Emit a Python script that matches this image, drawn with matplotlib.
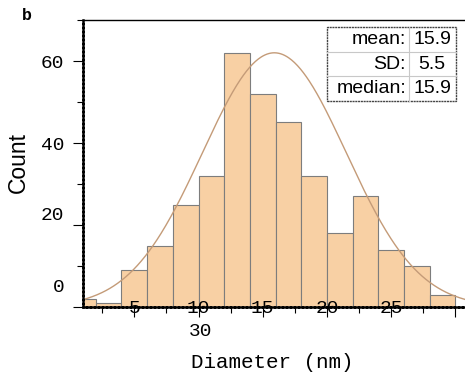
import numpy as np
import matplotlib
matplotlib.use("Agg")
import matplotlib.pyplot as plt
from matplotlib.transforms import ScaledTranslation
from matplotlib.ticker import MultipleLocator

# data
bin_edges = [0, 2, 4, 6, 8, 10, 12, 14, 16, 18, 20, 22, 24, 26, 28, 30]
counts = [2, 1, 9, 15, 25, 32, 62, 52, 45, 32, 18, 27, 14, 10, 3]
fit_amp, fit_mu, fit_sigma = 62.0, 15.9, 5.6
stat_names = ["mean:", "SD:", "median:"]
stat_values = ["15.9", "5.5", "15.9"]
xtick_vals = [5, 10, 15, 20, 25, 30]
ytick_vals = [0, 20, 40, 60]

mono = "Liberation Mono"
sans = "Liberation Sans"

fig = plt.figure(figsize=(4.65, 3.76), dpi=100)
ax = fig.add_axes([82.5 / 465, 69 / 376, 382.5 / 465, 287 / 376])
ax.set_axisbelow(False)

widths = np.diff(bin_edges)
ax.bar(bin_edges[:-1], counts, width=widths, align="edge",
       color="#F8D0A4", edgecolor="#7d7d7d", linewidth=0.8, zorder=1)

xs = np.linspace(0.5, 31, 400)
ys = fit_amp * np.exp(-(xs - fit_mu) ** 2 / (2 * fit_sigma ** 2))
ax.plot(xs, ys, color="#C49B78", lw=1.0, zorder=2)

ax.set_xlim(0.97, 30.74)
ax.set_ylim(0, 70)

# spines
ax.spines["right"].set_visible(False)
ax.spines["top"].set_linewidth(1.0)
for s in ("left", "bottom"):
    ax.spines[s].set_linewidth(1.8)
    ax.spines[s].set_linestyle((0, (1.2, 0.4)))

# ticks
ax.set_xticks(xtick_vals)
ax.xaxis.set_minor_locator(MultipleLocator(2.5))
ax.set_yticks(ytick_vals)
ax.yaxis.set_minor_locator(MultipleLocator(10))
ax.tick_params(axis="both", which="major", direction="out", length=7.2, width=0.8)
ax.tick_params(axis="both", which="minor", direction="out", length=4.3, width=0.8)
ax.tick_params(axis="x", which="major", pad=-12.5)
ax.tick_params(axis="y", which="major", pad=5.8)
ax.set_xticklabels([str(v) for v in xtick_vals], fontfamily=mono, fontsize=14)
ax.set_yticklabels([str(v) for v in ytick_vals], fontfamily=mono, fontsize=14)

# the odd label placement from the original export
dpi_tr = fig.dpi_scale_trans
for lab, v in zip(ax.get_xticklabels(), xtick_vals):
    if v == 30:
        lab.set_transform(lab.get_transform() + ScaledTranslation(-2.55, -0.235, dpi_tr))
yshift = {0: 0.22, 20: 0.115, 40: -0.01, 60: 0.0}
for lab, v in zip(ax.get_yticklabels(), ytick_vals):
    lab.set_transform(lab.get_transform() + ScaledTranslation(0, yshift[v], dpi_tr))

ax.set_xlabel("Diameter (nm)", fontfamily=mono, fontsize=15, va="center")
ax.xaxis.set_label_coords(0.4954, -0.195)
ax.set_ylabel("Count", fontfamily=sans, fontsize=16.5, va="center")
ax.yaxis.set_label_coords(-0.1686, 0.505)

fig.text(26.5 / 465, 1 - 15.5 / 376, "b", fontfamily=mono, fontweight="bold",
         fontsize=12, ha="center", va="center")

# stats box
x0, x1, xd = 0.6384, 0.9757, 0.8544
y_top, y_bot = 0.9746, 0.7178
rh = (y_top - y_bot) / len(stat_names)
for i in range(1, len(stat_names)):
    yy = y_top - i * rh
    ax.plot([x0, x1], [yy, yy], transform=ax.transAxes, color="#c8c8c8", lw=0.8, zorder=5)
ax.plot([xd, xd], [y_bot, y_top], transform=ax.transAxes, color="#c8c8c8", lw=0.8, zorder=5)
ax.add_patch(plt.Rectangle((x0, y_bot), x1 - x0, y_top - y_bot, transform=ax.transAxes,
                           facecolor="white", edgecolor="#444444", lw=1.0,
                           linestyle=(0, (1.5, 0.5)), zorder=4))
for i, (name, val) in enumerate(zip(stat_names, stat_values)):
    yc = y_top - (i + 0.5) * rh
    ax.text(0.8458, yc, name, transform=ax.transAxes, ha="right", va="center",
            fontfamily=sans, fontsize=14, zorder=6)
    ax.text(0.9137, yc, val, transform=ax.transAxes, ha="center", va="center",
            fontfamily=sans, fontsize=14, zorder=6)

fig.savefig("out.png", dpi=100)
